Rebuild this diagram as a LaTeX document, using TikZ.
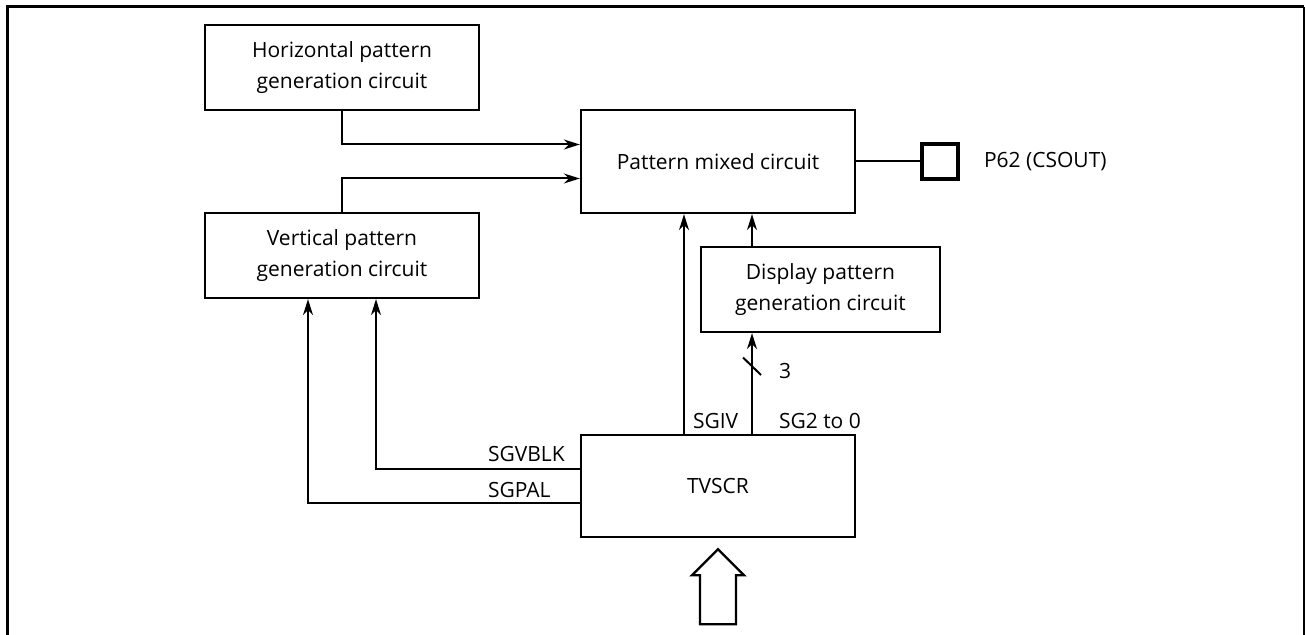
\documentclass[tikz,border=0pt]{standalone}
\usepackage{fontspec}
\setmainfont{Open Sans}
\usetikzlibrary{arrows.meta, positioning, calc}

\begin{document}
\begin{tikzpicture}[
    x=0.5pt, y=-0.5pt,
    every node/.style={font=\fontsize{10.5}{15.5}\selectfont, inner sep=0pt},
    block/.style={draw, line width=1.15pt, align=center, minimum width=137pt, minimum height=42.5pt},
    pinbox/.style={draw, line width=2pt, minimum width=18pt, minimum height=17.5pt},
    siglabel/.style={anchor=base west},
    ->, >={Stealth[length=8pt, width=5pt, inset=2.5pt]}, line width=1pt
]
\useasboundingbox (0,0) rectangle (1305,635);
% outer frame
\draw[-, line width=1.5pt] (7,635) -- (7,7) -- (1304,7);
\draw[-, line width=0.7pt] (1304,7) -- (1304,635);

\node[block] (hpg) at (342,67.5) {Horizontal pattern\\generation circuit};
\node[block] (vpg) at (342,255.5) {Vertical pattern\\generation circuit};
\node[block, minimum height=51.5pt] (mix) at (718,161.5) {Pattern mixed circuit};
\node[block, minimum width=119.5pt] (dpg) at (820.5,289.5) {Display pattern\\generation circuit};
\node[block, minimum height=51pt] (tvscr) at (718,486) {TVSCR};
\node[pinbox] (pin) at (940,161.5) {};
\node[anchor=west] (pinlabel) at (983,161.5) {P62 (CSOUT)};

% pattern inputs
\draw (hpg.south) |- ([yshift=8.5pt]mix.west);
\draw (vpg.north) |- ([yshift=-8.5pt]mix.west);
\draw[-] (mix.east) -- (pin.west);
\draw ([xshift=17pt]mix.south |- dpg.north) -- ([xshift=17pt]mix.south);

% TVSCR outputs
\draw ([xshift=-17pt]tvscr.north) -- ([xshift=-17pt]mix.south);
\draw ([xshift=17pt]tvscr.north) -- ([xshift=17pt]tvscr.north |- dpg.south);
\draw ([yshift=8.5pt]tvscr.west) -| ([xshift=17pt]vpg.south);
\draw ([yshift=-8.5pt]tvscr.west) -| ([xshift=-17pt]vpg.south);

\node[siglabel] (sgvblk) at (487,462) {SGVBLK};
\node[siglabel] (sgpal) at (487,497) {SGPAL};
\node[siglabel] (sgiv) at (692,429) {SGIV};
\node[siglabel] (sgsel) at (778,429) {SG2 to 0};

% bus width mark
\coordinate (bus) at (752,366.5);
\draw[-] ([shift={(-9,-9)}]bus) -- ([shift={(9,8.5)}]bus);
\node[anchor=west] (buswidth) at (778,371) {3};

% external input
\draw[-, line width=1.15pt] ([yshift=-5.5pt]tvscr.south) -- ++(26,26) -- ++(-8,0) -- ++(0,49)
    -- ++(-36,0) -- ++(0,-49) -- ++(-8,0) -- cycle;
\end{tikzpicture}
\end{document}
